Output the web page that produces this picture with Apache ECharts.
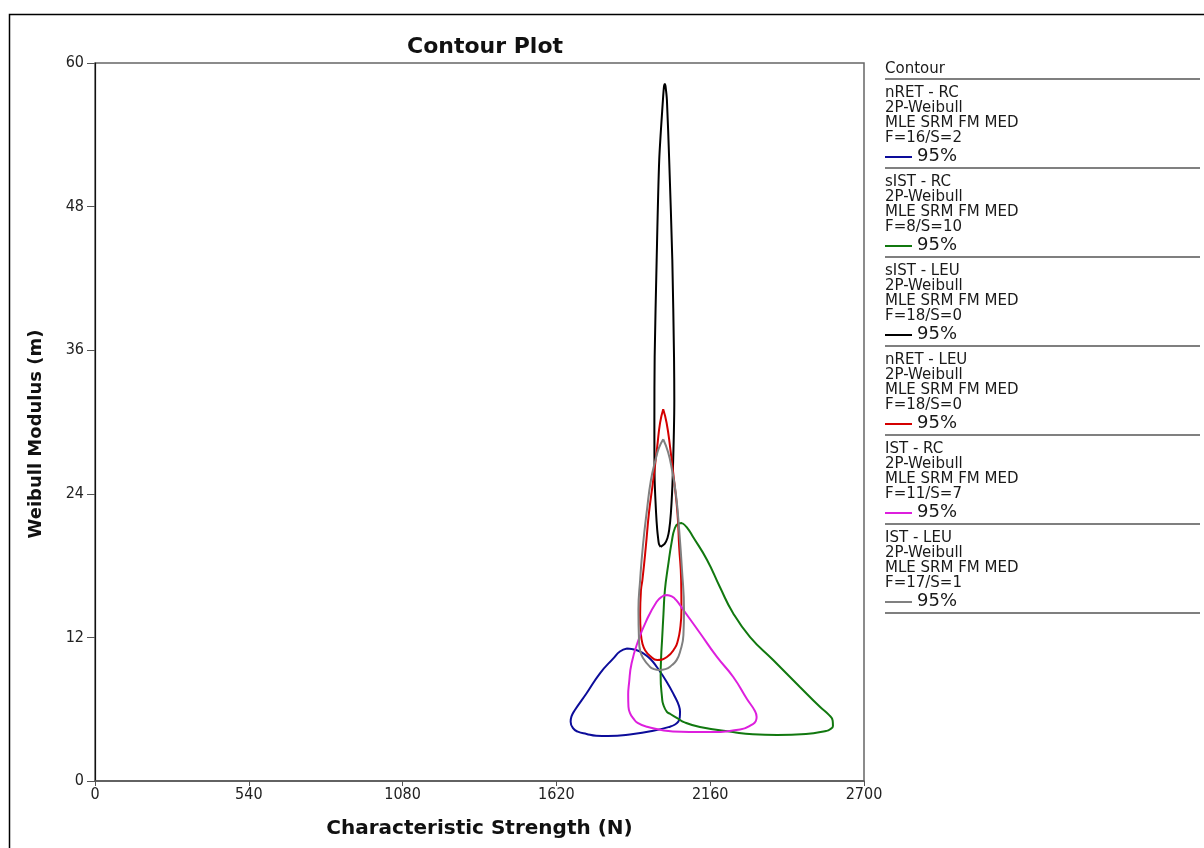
<!DOCTYPE html>
<html>
<head>
<meta charset="utf-8">
<title>Contour Plot</title>
<script src="https://cdn.jsdelivr.net/npm/echarts@6/dist/echarts.min.js"></script>
<style>
  html, body { margin: 0; padding: 0; background: #fff; }
  #chart { width: 1204px; height: 848px; }
</style>
</head>
<body>
<div id="chart"></div>
<script>
// axis ticks
var xTicks = [0, 540, 1080, 1620, 2160, 2700];
var yTicks = [0, 12, 24, 36, 48, 60];

// legend entries
var seriesNames = ["nRET - RC", "sIST - RC", "sIST - LEU", "nRET - LEU", "IST - RC", "IST - LEU"];
var fsLabels = ["F=16/S=2", "F=8/S=10", "F=18/S=0", "F=18/S=0", "F=11/S=7", "F=17/S=1"];
var distLabel = "2P-Weibull";
var methodLabel = "MLE SRM FM MED";
var levelLabel = "95%";

// contour outlines, [characteristic strength, weibull modulus]
var nretRC = [
  [1868, 11.07], [1900, 10.95], [1925, 10.67], [1950, 10.20], [1972, 9.55], [2007, 8.30],
  [2036, 7.04], [2050, 6.30], [2054, 5.79], [2053, 5.30], [2048, 4.96], [2035, 4.70],
  [2019, 4.54], [1960, 4.20], [1890, 3.93], [1801, 3.76], [1760, 3.78], [1726, 3.93],
  [1695, 4.12], [1679, 4.40], [1670, 4.96], [1673, 5.40], [1685, 5.93], [1726, 7.33],
  [1773, 9.00], [1820, 10.25], [1843, 10.82], [1868, 11.07]
];
var sistRC = [
  [2061, 21.56], [2078, 21.20], [2100, 20.39], [2149, 18.47], [2194, 16.21], [2240, 14.04],
  [2300, 12.03], [2381, 10.11], [2475, 7.86], [2546, 6.18], [2576, 5.55], [2590, 5.05],
  [2591, 4.60], [2580, 4.30], [2567, 4.18], [2496, 3.93], [2395, 3.84], [2310, 3.90],
  [2240, 4.09], [2124, 4.51], [2070, 4.90], [2044, 5.26], [2020, 5.60], [2008, 5.77],
  [1995, 6.40], [1991, 6.94], [1986, 8.77], [1988, 10.50], [1991, 11.78], [1996, 14.00],
  [2001, 15.96], [2012, 17.97], [2025, 20.00], [2036, 21.14], [2048, 21.50], [2061, 21.56]
];
var sistLEU = [
  [1986, 19.56], [2000, 19.81], [2010, 20.31], [2016, 20.98], [2022, 22.40], [2028, 25.15],
  [2034, 31.84], [2033, 35.43], [2027, 43.54], [2016, 51.90], [2008, 56.91], [2003, 58.08],
  [2001, 58.25], [1998, 58.08], [1994, 56.91], [1981, 51.90], [1972, 43.54], [1965, 35.43],
  [1964, 30.17], [1965, 25.15], [1970, 22.40], [1974, 20.98], [1977, 20.31], [1980, 19.81],
  [1986, 19.56]
];
var nretLEU = [
  [1995, 31.06], [2007, 29.92], [2019, 27.94], [2033, 25.15], [2045, 22.40], [2051, 19.58],
  [2058, 16.80], [2059, 14.29], [2054, 12.62], [2046, 11.70], [2036, 11.11], [2008, 10.36],
  [1974, 10.11], [1949, 10.45], [1931, 10.95], [1922, 11.50], [1917, 12.20], [1914, 13.87],
  [1917, 15.96], [1922, 16.80], [1934, 19.58], [1945, 22.40], [1960, 25.15], [1974, 27.94],
  [1984, 29.92], [1995, 31.06]
];
var istRC = [
  [2007, 15.54], [2025, 15.42], [2040, 15.13], [2066, 14.29], [2124, 12.37], [2183, 10.39],
  [2241, 8.69], [2289, 6.85], [2317, 5.85], [2323, 5.35], [2320, 5.00], [2310, 4.76],
  [2265, 4.30], [2145, 4.09], [2029, 4.14], [1938, 4.54], [1905, 4.85], [1890, 5.24],
  [1878, 5.70], [1873, 6.21], [1872, 7.20], [1875, 8.16], [1884, 9.84], [1908, 11.78],
  [1937, 13.45], [1972, 14.98], [1990, 15.40], [2007, 15.54]
];
var istLEU = [
  [1995, 28.56], [2012, 27.49], [2026, 25.99], [2040, 23.90], [2051, 20.98], [2061, 17.63],
  [2068, 14.29], [2066, 12.20], [2054, 10.78], [2042, 10.10], [2026, 9.69], [2003, 9.35],
  [1981, 9.28], [1963, 9.35], [1949, 9.53], [1924, 10.28], [1914, 10.90], [1910, 11.78],
  [1908, 14.29], [1914, 16.80], [1924, 19.72], [1938, 22.65], [1952, 25.15], [1968, 26.83],
  [1980, 27.83], [1995, 28.56]
];

var contours = [nretRC, sistRC, sistLEU, nretLEU, istRC, istLEU];
var colors = ["#0c0c9a", "#11780f", "#000000", "#d40000", "#dd1fdd", "#808080"];
var sepColors = ["#808080", "#000000", "#000000", "#808080", "#000000", "#000000"];

var el = document.getElementById("chart");
var chart = echarts.init(el);

var legendFont = "'DejaVu Sans', Verdana, sans-serif";
var tickFont = "'DejaVu Sans Condensed', 'DejaVu Sans', sans-serif";

// side legend drawn as plain graphics
var graphics = [
  { type: "rect", shape: { x: 9.5, y: 14.5, width: 1300, height: 900 },
    style: { fill: null, stroke: "#000", lineWidth: 1.5 }, silent: true },
  { type: "text", left: 885, top: 62,
    style: { text: "Contour", font: "15px " + legendFont, fill: "#1a1a1a" } },
  { type: "line", shape: { x1: 885, y1: 79, x2: 1200, y2: 79 },
    style: { stroke: "#000", lineWidth: 1.2 } }
];
seriesNames.forEach(function (name, i) {
  var y0 = 86 + 89 * i;
  var lines = [name, distLabel, methodLabel, fsLabels[i]];
  lines.forEach(function (t, k) {
    graphics.push({ type: "text", left: 885, top: y0 + 15 * k,
      style: { text: t, font: "15px " + legendFont, fill: "#1a1a1a" } });
  });
  graphics.push({ type: "line", shape: { x1: 885, y1: y0 + 71, x2: 912, y2: y0 + 71 },
    style: { stroke: colors[i], lineWidth: 2 } });
  graphics.push({ type: "text", left: 917, top: y0 + 61,
    style: { text: levelLabel, font: "18px " + legendFont, fill: "#1a1a1a" } });
  graphics.push({ type: "line", shape: { x1: 885, y1: y0 + 82, x2: 1200, y2: y0 + 82 },
    style: { stroke: sepColors[i], lineWidth: sepColors[i] === "#808080" ? 2 : 1.2 } });
});

var option = {
  backgroundColor: "#fff",
  animation: false,
  title: {
    text: "Contour Plot",
    left: 480,
    top: 31,
    textAlign: "center",
    textStyle: { fontFamily: "'DejaVu Sans', sans-serif", fontWeight: "bold", fontSize: 22, color: "#111" }
  },
  grid: {
    left: 95, top: 63, right: 340, bottom: 67,
    show: true, borderColor: "#666", borderWidth: 1.5, backgroundColor: "#fff"
  },
  xAxis: {
    type: "value",
    min: xTicks[0], max: xTicks[xTicks.length - 1], interval: xTicks[1] - xTicks[0],
    name: "Characteristic Strength (N)",
    nameLocation: "middle",
    nameGap: 38,
    nameTextStyle: { fontFamily: "'DejaVu Sans', sans-serif", fontWeight: "bold", fontSize: 20, color: "#111" },
    axisLine: { lineStyle: { color: "#555", width: 1.5 } },
    axisTick: { length: 5, lineStyle: { color: "#555" } },
    axisLabel: { fontFamily: tickFont, fontSize: 16, color: "#222", margin: 6,
      formatter: function (v) { return String(v); } },
    splitLine: { show: false }
  },
  yAxis: {
    type: "value",
    min: yTicks[0], max: yTicks[yTicks.length - 1], interval: yTicks[1] - yTicks[0],
    name: "Weibull Modulus (m)",
    nameLocation: "middle",
    nameGap: 50,
    nameTextStyle: { fontFamily: "'DejaVu Sans', sans-serif", fontWeight: "bold", fontSize: 18, color: "#111",
      padding: [0, 24, 0, 0] },
    axisLine: { show: true, lineStyle: { color: "#111", width: 1.2 } },
    axisTick: { show: true, length: 8, lineStyle: { color: "#555" } },
    axisLabel: { fontFamily: tickFont, fontSize: 16, color: "#222", margin: 11 },
    splitLine: { show: false }
  },
  graphic: graphics,
  series: contours.map(function (pts, i) {
    return {
      name: seriesNames[i],
      type: "line",
      data: pts,
      showSymbol: false,
      smooth: i === 2 ? 0.25 : 0.5,
      lineStyle: { color: colors[i], width: 2 },
      z: 2 + i
    };
  })
};

chart.setOption(option);
</script>
</body>
</html>
